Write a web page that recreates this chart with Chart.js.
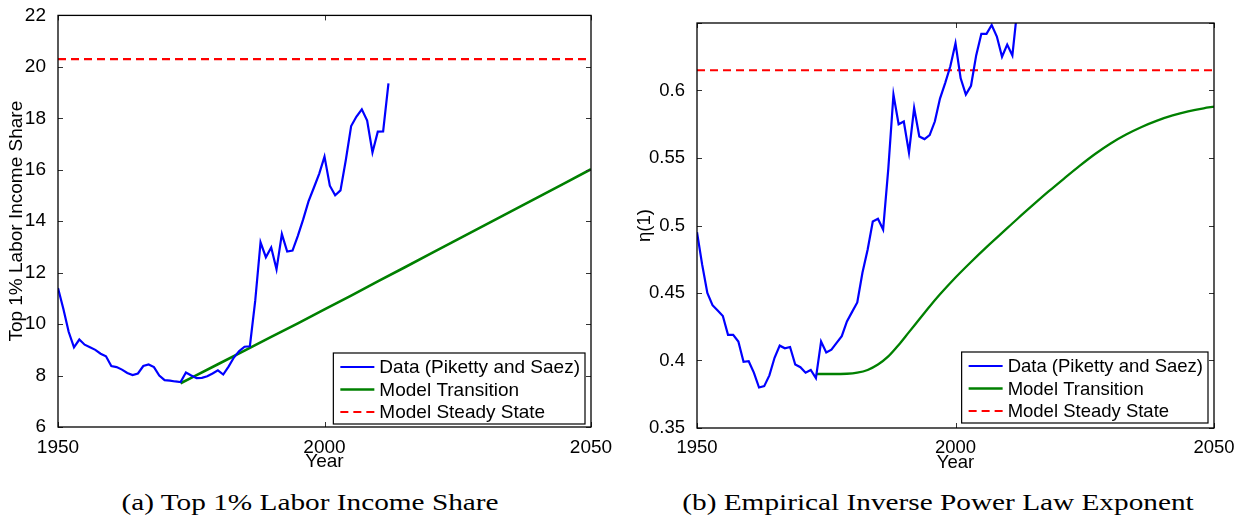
<!DOCTYPE html>
<html>
<head>
<meta charset="utf-8">
<script src="https://cdn.jsdelivr.net/npm/chart.js@4.4.0/dist/chart.umd.min.js"></script>
<style>
  html, body { margin: 0; padding: 0; background: #fff; }
  #wrap { position: relative; width: 1241px; height: 521px; overflow: hidden; }
  canvas { position: absolute; top: 0; }
  #left { left: 0; }
  #right { left: 630px; }
  .cap {
    position: absolute; top: 490px; width: 620px; text-align: center;
    font-family: "Liberation Serif", "Times New Roman", serif; font-size: 24px; line-height: 24px;
    color: #000; white-space: nowrap; transform: scaleX(1.22); transform-origin: 50% 50%;
  }
</style>
</head>
<body>
<div id="wrap">
  <canvas id="left" width="620" height="480"></canvas>
  <canvas id="right" width="611" height="480"></canvas>
  <div class="cap" style="left:0">(a) Top 1% Labor Income Share</div>
  <div class="cap" style="left:628px">(b) Empirical Inverse Power Law Exponent</div>
</div>
<script>
// values
const dataYears = [
  1950, 1951, 1952, 1953, 1954, 1955, 1956, 1957, 1958, 1959,
  1960, 1961, 1962, 1963, 1964, 1965, 1966, 1967, 1968, 1969,
  1970, 1971, 1972, 1973, 1974, 1975, 1976, 1977, 1978, 1979,
  1980, 1981, 1982, 1983, 1984, 1985, 1986, 1987, 1988, 1989,
  1990, 1991, 1992, 1993, 1994, 1995, 1996, 1997, 1998, 1999,
  2000, 2001, 2002, 2003, 2004, 2005, 2006, 2007, 2008, 2009,
  2010, 2011, 2012
];
const shareData = [
  11.4, 10.6, 9.7, 9.1, 9.4, 9.2, 9.1, 9.0, 8.85, 8.75,
  8.37, 8.33, 8.23, 8.1, 8.02, 8.08, 8.37, 8.43, 8.33, 8.0,
  7.82, 7.8, 7.77, 7.75, 8.12, 8.0, 7.9, 7.91, 7.97, 8.08,
  8.2, 8.04, 8.35, 8.7, 8.95, 9.12, 9.14, 10.9, 13.18, 12.6,
  12.98, 12.13, 13.5, 12.82, 12.86, 13.43, 14.07, 14.77, 15.3, 15.84,
  16.51, 15.38, 15.01, 15.2, 16.38, 17.7, 18.07, 18.35, 17.91, 16.67,
  17.48, 17.49, 19.36
];
const etaData = [
  0.495, 0.471, 0.450, 0.441, 0.437, 0.433, 0.419, 0.419, 0.414, 0.399,
  0.3995, 0.391, 0.380, 0.381, 0.389, 0.402, 0.411, 0.409, 0.410, 0.397,
  0.395, 0.391, 0.393, 0.387, 0.414, 0.406, 0.408, 0.413, 0.418, 0.429,
  0.436, 0.443, 0.465, 0.482, 0.503, 0.505, 0.497, 0.542, 0.597, 0.575,
  0.577, 0.554, 0.587, 0.566, 0.564, 0.567, 0.577, 0.594, 0.6055, 0.618,
  0.635, 0.609, 0.597, 0.6035, 0.626, 0.642, 0.642, 0.6485, 0.640, 0.625,
  0.634, 0.626, 0.662
];
const shareModelYears = [1973, 1975, 1980, 1985, 1990, 1995, 2000, 2005, 2010, 2015, 2020, 2025, 2030, 2035, 2040, 2045, 2050];
const shareModel = [7.70, 7.91, 8.44, 8.97, 9.50, 10.03, 10.57, 11.11, 11.66, 12.20, 12.75, 13.29, 13.84, 14.38, 14.93, 15.47, 16.02];
const etaModelYears = [
  1973, 1976, 1979, 1981, 1983, 1985, 1987, 1989, 1991, 1993, 1995, 1997, 2000,
  2003, 2006, 2009, 2012, 2015, 2018, 2021, 2024, 2027, 2030, 2033, 2036, 2039,
  2042, 2045, 2048, 2050
];
const etaModel = [
  0.390, 0.390, 0.3902, 0.391, 0.393, 0.397, 0.403, 0.4115, 0.421, 0.4305, 0.440, 0.449, 0.4615,
  0.473, 0.484, 0.4945, 0.505, 0.5152, 0.5252, 0.5348, 0.5442, 0.553, 0.5608, 0.5674, 0.573, 0.5777,
  0.5815, 0.5845, 0.5868, 0.588
];
const shareSteady = 20.3;
const etaSteady = 0.615;
const xTicks = [1950, 2000, 2050];
const seriesLabels = ['Data (Piketty and Saez)', 'Model Transition', 'Model Steady State'];

const FONT = '"Liberation Sans", Arial, Helvetica, sans-serif';

const toPoints = (xs, ys) => xs.map((x, i) => ({ x: x, y: ys[i] }));

// matlab style box with inward ticks
const boxAndTicks = {
  id: 'boxAndTicks',
  afterDraw(chart) {
    const { ctx, chartArea: a, scales } = chart;
    ctx.save();
    ctx.strokeStyle = '#333';
    ctx.lineWidth = 1;
    ctx.beginPath();
    scales.x.ticks.forEach(t => {
      const px = Math.round(scales.x.getPixelForValue(t.value)) + 0.5;
      ctx.moveTo(px, a.bottom); ctx.lineTo(px, a.bottom - 5);
      ctx.moveTo(px, a.top); ctx.lineTo(px, a.top + 5);
    });
    scales.y.ticks.forEach(t => {
      const py = Math.round(scales.y.getPixelForValue(t.value)) + 0.5;
      ctx.moveTo(a.left, py); ctx.lineTo(a.left + 5, py);
      ctx.moveTo(a.right, py); ctx.lineTo(a.right - 5, py);
    });
    ctx.stroke();
    ctx.strokeStyle = '#000';
    ctx.lineWidth = 1.3;
    ctx.strokeRect(a.left, a.top, a.right - a.left, a.bottom - a.top);
    ctx.restore();
  }
};

// legend box in the lower right corner of the plot
const insideLegend = {
  id: 'insideLegend',
  afterDraw(chart, args, opts) {
    const { ctx, chartArea: a } = chart;
    const sets = chart.data.datasets;
    ctx.save();
    ctx.font = opts.size + 'px ' + FONT;
    const textW = Math.max(...sets.map(d => ctx.measureText(d.label).width));
    const sample = 34, gap = 5, padL = 7, padR = 5, rowH = 22.5, padT = 14, padB = 12;
    const w = padL + sample + gap + textW + padR;
    const h = padT + rowH * (sets.length - 1) + padB;
    const left = a.right - opts.right - w;
    const top = a.bottom - opts.bottom - h;
    ctx.fillStyle = '#fff';
    ctx.fillRect(left, top, w, h);
    ctx.strokeStyle = '#000';
    ctx.lineWidth = 1.2;
    ctx.strokeRect(left, top, w, h);
    sets.forEach((d, i) => {
      const y = top + padT + i * rowH;
      ctx.strokeStyle = d.borderColor;
      ctx.lineWidth = d.borderWidth;
      ctx.setLineDash(d.borderDash || []);
      ctx.beginPath();
      ctx.moveTo(left + padL, y);
      ctx.lineTo(left + padL + sample, y);
      ctx.stroke();
      ctx.setLineDash([]);
      ctx.fillStyle = '#000';
      ctx.textBaseline = 'middle';
      ctx.textAlign = 'left';
      ctx.fillText(d.label, left + padL + sample + gap, y + 1);
    });
    ctx.restore();
  }
};

function makeChart(id, cfg) {
  const font = { family: FONT, size: cfg.fontSize };
  return new Chart(document.getElementById(id), {
    type: 'line',
    data: {
      datasets: [
        {
          label: seriesLabels[0],
          data: toPoints(dataYears, cfg.data),
          borderColor: '#0000ff',
          borderWidth: 2.2,
          clip: 0
        },
        {
          label: seriesLabels[1],
          data: toPoints(cfg.modelYears, cfg.model),
          borderColor: '#008000',
          borderWidth: cfg.modelWidth,
          cubicInterpolationMode: cfg.smooth ? 'monotone' : 'default',
          clip: 0
        },
        {
          label: seriesLabels[2],
          data: [{ x: xTicks[0], y: cfg.steady }, { x: xTicks[2], y: cfg.steady }],
          borderColor: '#ff0000',
          borderWidth: 2.2,
          borderDash: [8, 5],
          clip: 0
        }
      ]
    },
    options: {
      responsive: false,
      animation: false,
      events: [],
      layout: { padding: cfg.padding },
      elements: { point: { radius: 0 } },
      plugins: {
        legend: { display: false },
        tooltip: { enabled: false },
        insideLegend: { size: cfg.fontSize, right: cfg.legendRight, bottom: cfg.legendBottom }
      },
      scales: {
        x: {
          type: 'linear',
          min: xTicks[0],
          max: xTicks[2],
          afterBuildTicks: s => { s.ticks = xTicks.map(v => ({ value: v })); },
          afterFit: s => { s.height = cfg.xHeight; },
          grid: { display: false },
          border: { display: false },
          ticks: {
            font: font, color: '#000', padding: 1, maxRotation: 0, autoSkip: false,
            callback: v => String(v)
          },
          title: { display: true, text: 'Year', color: '#000', font: font, padding: { top: 0, bottom: cfg.xTitlePad } }
        },
        y: {
          min: cfg.yMin,
          max: cfg.yMax,
          afterFit: s => { s.width = cfg.yWidth; },
          grid: { display: false },
          border: { display: false },
          ticks: { stepSize: cfg.yStep, font: font, color: '#000', padding: 4, callback: cfg.yFormat },
          title: { display: true, text: cfg.yTitle, color: '#000', font: font, padding: { top: cfg.yTitlePad, bottom: 0 } }
        }
      }
    },
    plugins: [boxAndTicks, insideLegend]
  });
}

makeChart('left', {
  data: shareData,
  modelYears: shareModelYears,
  model: shareModel,
  steady: shareSteady,
  smooth: false,
  modelWidth: 2.6,
  fontSize: 19,
  padding: { left: 0, top: 10, right: 29, bottom: 0 },
  xHeight: 53,
  xTitlePad: 7,
  yWidth: 58,
  yMin: 6, yMax: 22, yStep: 2,
  yFormat: v => String(v),
  yTitle: 'Top 1% Labor Income Share',
  yTitlePad: 5,
  legendRight: 6, legendBottom: 3
});

makeChart('right', {
  data: etaData,
  modelYears: etaModelYears,
  model: etaModel,
  steady: etaSteady,
  smooth: true,
  modelWidth: 2.3,
  fontSize: 18.5,
  padding: { left: 0, top: 23, right: 27, bottom: 0 },
  xHeight: 52,
  xTitlePad: 6,
  yWidth: 67,
  yMin: 0.35, yMax: 0.65, yStep: 0.05,
  yFormat: v => { const r = Math.round(v * 100) / 100; return r >= 0.65 ? '' : String(r); },
  yTitle: 'η(1)',
  yTitlePad: 3.5,
  legendRight: 6, legendBottom: 5
});
</script>
</body>
</html>
